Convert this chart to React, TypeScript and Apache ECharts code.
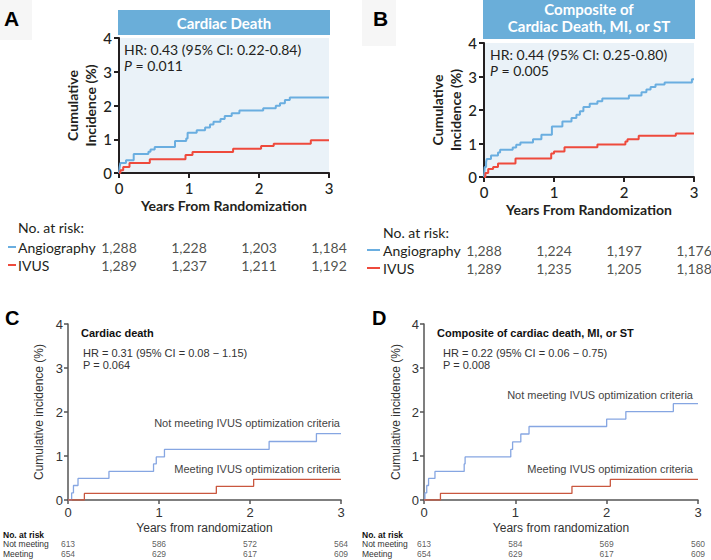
import React, { useEffect, useRef } from 'react';
import * as echarts from 'echarts';

type Pt = [number, number];

// ---- Panel A: Cardiac Death (years, cumulative %) ----
const aAngiography: Pt[] = [[0,0],[0.01,0.18],[0.02,0.30],[0.10,0.38],[0.21,0.56],[0.42,0.63],[0.45,0.70],[0.51,0.77],[0.80,0.95],[0.96,1.02],[0.98,1.19],[1.11,1.27],[1.23,1.35],[1.30,1.44],[1.35,1.52],[1.45,1.60],[1.51,1.69],[1.61,1.77],[1.72,1.85],[2.06,1.92],[2.24,1.99],[2.30,2.07],[2.37,2.16],[2.44,2.24],[3,2.24]];
const aIvus: Pt[] = [[0,0],[0.02,0.08],[0.06,0.18],[0.15,0.30],[0.44,0.41],[0.95,0.53],[1.05,0.62],[1.63,0.72],[2.03,0.80],[2.21,0.87],[2.74,0.97],[3,0.97]];

// ---- Panel B: Composite of Cardiac Death, MI, or ST ----
const bAngiography: Pt[] = [[0,0],[0.01,0.30],[0.03,0.45],[0.04,0.54],[0.10,0.64],[0.20,0.73],[0.23,0.81],[0.41,0.88],[0.46,0.96],[0.52,1.03],[0.70,1.13],[0.82,1.26],[0.97,1.51],[1.12,1.66],[1.25,1.76],[1.32,1.86],[1.37,1.96],[1.42,2.09],[1.51,2.19],[1.62,2.26],[1.69,2.34],[2.07,2.43],[2.25,2.53],[2.32,2.61],[2.38,2.69],[2.45,2.76],[2.58,2.82],[2.97,2.92],[3,2.92]];
const bIvus: Pt[] = [[0,0],[0.02,0.12],[0.06,0.24],[0.13,0.30],[0.20,0.40],[0.45,0.55],[0.96,0.70],[1.00,0.76],[1.15,0.89],[1.62,0.97],[2.02,1.06],[2.05,1.13],[2.21,1.23],[2.74,1.30],[3,1.30]];

// ---- Panel C: Cardiac death (IVUS optimization) ----
const cNotMeeting: Pt[] = [[0,0],[0.04,0.16],[0.06,0.33],[0.11,0.49],[0.45,0.65],[0.94,0.82],[0.97,0.98],[1.06,1.15],[2.21,1.33],[2.73,1.51],[3,1.51]];
const cMeeting: Pt[] = [[0,0],[0.18,0.15],[1.63,0.31],[2.04,0.47],[3,0.47]];

// ---- Panel D: Composite (IVUS optimization) ----
const dNotMeeting: Pt[] = [[0,0],[0.01,0.16],[0.03,0.33],[0.05,0.49],[0.12,0.65],[0.44,0.82],[0.45,0.98],[0.95,1.15],[0.97,1.32],[1.06,1.50],[1.15,1.67],[2.00,1.84],[2.21,2.01],[2.73,2.19],[3,2.19]];
const dMeeting: Pt[] = [[0,0],[0.18,0.15],[1.62,0.31],[2.04,0.47],[3,0.47]];

// ---- Risk tables ----
const riskYears = [0, 1, 2, 3];
const topRiskRows = ['Angiography', 'IVUS'];
const aRiskAngiography = ['1,288', '1,228', '1,203', '1,184'];
const aRiskIvus = ['1,289', '1,237', '1,211', '1,192'];
const bRiskAngiography = ['1,288', '1,224', '1,197', '1,176'];
const bRiskIvus = ['1,289', '1,235', '1,205', '1,188'];
const bottomRiskRows = ['Not meeting', 'Meeting'];
const cRiskNotMeeting = ['613', '586', '572', '564'];
const cRiskMeeting = ['654', '629', '617', '609'];
const dRiskNotMeeting = ['613', '584', '569', '560'];
const dRiskMeeting = ['654', '629', '617', '609'];

const TOP_FONT = 'Lato, "Noto Sans", sans-serif';
const BOT_FONT = '"Liberation Sans", Arial, sans-serif';
const DARK = '#231f20';
const TOP_BLUE = '#6aaee0';
const TOP_RED = '#ee4a3c';
const BAR = '#6aaed9';
const PLOT_BG = '#eaf2f8';
const BOT_BLUE = '#86a6e2';
const BOT_RED = '#c9573f';
const BOT_AXIS = '#555555';
const BOT_TEXT = '#333333';

function riskItems(rows: string[], a: string[], b: string[]) {
  const out: any[] = [];
  riskYears.forEach((t, i) => {
    out.push({ value: [t, rows[0]], name: a[i] });
    out.push({ value: [t, rows[1]], name: b[i] });
  });
  return out;
}

function topX(gi: number) {
  return {
    gridIndex: gi, type: 'value', min: 0, max: 3, interval: 1,
    axisLine: { show: true, onZero: false, lineStyle: { color: DARK, width: 2 } },
    axisTick: { show: true, length: 5, lineStyle: { color: DARK, width: 2 } },
    axisLabel: { fontFamily: TOP_FONT, fontSize: 15, color: DARK, margin: 7, fontWeight: 500 },
    splitLine: { show: false },
    name: 'Years From Randomization', nameLocation: 'middle', nameGap: 25,
    nameTextStyle: { fontFamily: TOP_FONT, fontSize: 14, fontWeight: 'bold', color: DARK },
  };
}
function topY(gi: number, gap: number) {
  return {
    gridIndex: gi, type: 'value', min: 0, max: 4, interval: 1,
    axisLine: { show: true, onZero: false, lineStyle: { color: DARK, width: 2 } },
    axisTick: { show: true, length: 5, lineStyle: { color: DARK, width: 2 } },
    axisLabel: { fontFamily: TOP_FONT, fontSize: 15, color: DARK, margin: 7, fontWeight: 500 },
    splitLine: { show: false },
    name: 'Cumulative\nIncidence (%)', nameLocation: 'middle', nameGap: gap, nameRotate: 90,
    nameTextStyle: { fontFamily: TOP_FONT, fontSize: 14, fontWeight: 'bold', color: DARK, lineHeight: 18 },
  };
}
function botX(gi: number) {
  return {
    gridIndex: gi, type: 'value', min: 0, max: 3, interval: 1,
    axisLine: { show: true, onZero: false, lineStyle: { color: BOT_AXIS, width: 1.5 } },
    axisTick: { show: true, length: 4, lineStyle: { color: BOT_AXIS, width: 1.5 } },
    axisLabel: { fontFamily: BOT_FONT, fontSize: 13, color: BOT_TEXT, margin: 6 },
    splitLine: { show: false },
    name: 'Years from randomization', nameLocation: 'middle', nameGap: 22,
    nameTextStyle: { fontFamily: BOT_FONT, fontSize: 12, color: BOT_TEXT },
  };
}
function botY(gi: number, gap: number) {
  return {
    gridIndex: gi, type: 'value', min: 0, max: 4, interval: 1,
    axisLine: { show: true, onZero: false, lineStyle: { color: BOT_AXIS, width: 1.5 } },
    axisTick: { show: true, length: 4, lineStyle: { color: BOT_AXIS, width: 1.5 } },
    axisLabel: { fontFamily: BOT_FONT, fontSize: 13, color: BOT_TEXT, margin: 5 },
    splitLine: { show: false },
    name: 'Cumulative incidence (%)', nameLocation: 'middle', nameGap: gap, nameRotate: 90,
    nameTextStyle: { fontFamily: BOT_FONT, fontSize: 12, color: BOT_TEXT },
  };
}
function riskX(gi: number) {
  return { gridIndex: gi, type: 'value', min: 0, max: 3, interval: 1, show: false };
}
function riskY(gi: number, rows: string[], margin: number, font: string, size: number, color: string) {
  return {
    gridIndex: gi, type: 'category', data: rows, inverse: true,
    axisLine: { show: false }, axisTick: { show: false }, splitLine: { show: false },
    axisLabel: { interval: 0, align: 'left', margin, fontFamily: font, fontSize: size, color },
  };
}
function km(xi: number, data: Pt[], color: string, width: number) {
  return {
    type: 'line', xAxisIndex: xi, yAxisIndex: xi, data, step: 'end',
    symbol: 'none', showSymbol: false, silent: true,
    lineStyle: { color, width },
  };
}
function risk(xi: number, items: any[], font: string, size: number, color: string) {
  return {
    type: 'scatter', xAxisIndex: xi, yAxisIndex: xi, data: items, symbolSize: 1, silent: true,
    itemStyle: { color: 'rgba(0,0,0,0)' },
    label: { show: true, position: 'inside', formatter: '{b}', fontFamily: font, fontSize: size, color },
  };
}

function txt(x: number, y: number, text: string, opts: any = {}) {
  return {
    type: 'text', x, y, silent: true,
    style: { text, align: 'left', verticalAlign: 'middle', ...opts },
  };
}

export default function App() {
  const ref = useRef<HTMLDivElement>(null);
  useEffect(() => {
    if (!ref.current) return;
    const chart = echarts.init(ref.current, null, { renderer: 'svg' });
    const topTxt = { fontFamily: TOP_FONT, fontSize: 14, fill: DARK, lineHeight: 14 };
    const botTxt = { fontFamily: BOT_FONT, fontSize: 11, fill: BOT_TEXT };
    const italicP = { i: { fontFamily: TOP_FONT, fontSize: 14, fontStyle: 'italic', fill: DARK, lineHeight: 14 } };
    const option: any = {
      animation: false,
      backgroundColor: '#ffffff',
      grid: [
        { left: 119, top: 38, width: 210, height: 135, show: true, backgroundColor: PLOT_BG, borderWidth: 0 },
        { left: 484, top: 43, width: 210, height: 134, show: true, backgroundColor: PLOT_BG, borderWidth: 0 },
        { left: 68, top: 324, width: 273, height: 176 },
        { left: 424, top: 324, width: 274, height: 176 },
        { left: 119, top: 238, width: 210, height: 36 },
        { left: 484, top: 241, width: 210, height: 36 },
        { left: 68, top: 539, width: 273, height: 20 },
        { left: 424, top: 539, width: 274, height: 20 },
      ],
      xAxis: [topX(0), topX(1), botX(2), botX(3), riskX(4), riskX(5), riskX(6), riskX(7)],
      yAxis: [
        topY(0, 17), topY(1, 18), botY(2, 23), botY(3, 22),
        riskY(4, topRiskRows, 101, TOP_FONT, 14, DARK),
        riskY(5, topRiskRows, 101, TOP_FONT, 14, DARK),
        riskY(6, bottomRiskRows, 65, BOT_FONT, 8.5, BOT_TEXT),
        riskY(7, bottomRiskRows, 62, BOT_FONT, 8.5, BOT_TEXT),
      ],
      series: [
        km(0, aAngiography, TOP_BLUE, 2), km(0, aIvus, TOP_RED, 2),
        km(1, bAngiography, TOP_BLUE, 2), km(1, bIvus, TOP_RED, 2),
        km(2, cNotMeeting, BOT_BLUE, 1.3), km(2, cMeeting, BOT_RED, 1.3),
        km(3, dNotMeeting, BOT_BLUE, 1.3), km(3, dMeeting, BOT_RED, 1.3),
        risk(4, riskItems(topRiskRows, aRiskAngiography, aRiskIvus), TOP_FONT, 14, DARK),
        risk(5, riskItems(topRiskRows, bRiskAngiography, bRiskIvus), TOP_FONT, 14, DARK),
        risk(6, riskItems(bottomRiskRows, cRiskNotMeeting, cRiskMeeting), BOT_FONT, 8.5, BOT_TEXT),
        risk(7, riskItems(bottomRiskRows, dRiskNotMeeting, dRiskMeeting), BOT_FONT, 8.5, BOT_TEXT),
      ],
      graphic: [
        // letter boxes
        { type: 'rect', silent: true, shape: { x: 0, y: 0, width: 32, height: 40 }, style: { fill: '#f6f6f6' } },
        { type: 'rect', silent: true, shape: { x: 362, y: 0, width: 34, height: 46 }, style: { fill: '#f6f6f6' } },
        txt(4, 18, 'A', { fontFamily: BOT_FONT, fontSize: 21, fontWeight: 'bold', fill: '#000' }),
        txt(373, 18, 'B', { fontFamily: BOT_FONT, fontSize: 21, fontWeight: 'bold', fill: '#000' }),
        txt(5, 318, 'C', { fontFamily: BOT_FONT, fontSize: 20, fontWeight: 'bold', fill: '#000' }),
        txt(372, 318, 'D', { fontFamily: BOT_FONT, fontSize: 20, fontWeight: 'bold', fill: '#000' }),
        // title bars
        { type: 'rect', silent: true, shape: { x: 118, y: 10, width: 212, height: 25 }, style: { fill: BAR } },
        { type: 'rect', silent: true, shape: { x: 483, y: 0, width: 212, height: 39 }, style: { fill: BAR } },
        txt(224, 22.5, 'Cardiac Death', { fontFamily: TOP_FONT, fontSize: 15, fontWeight: 'bold', fill: '#ffffff', align: 'center' }),
        txt(589, 9, 'Composite of', { fontFamily: TOP_FONT, fontSize: 15, fontWeight: 'bold', fill: '#ffffff', align: 'center', lineHeight: 16 }),
        txt(589, 26, 'Cardiac Death, MI, or ST', { fontFamily: TOP_FONT, fontSize: 15, fontWeight: 'bold', fill: '#ffffff', align: 'center', lineHeight: 16 }),
        // HR annotations top
        txt(124, 49, 'HR: 0.43 (95% CI: 0.22-0.84)', topTxt),
        txt(124, 65, '{i|P} = 0.011', { ...topTxt, rich: italicP }),
        txt(490, 54, 'HR: 0.44 (95% CI: 0.25-0.80)', topTxt),
        txt(490, 70, '{i|P} = 0.005', { ...topTxt, rich: italicP }),
        // risk headers top
        txt(18, 227, 'No. at risk:', topTxt),
        txt(383, 232, 'No. at risk:', topTxt),
        { type: 'line', silent: true, shape: { x1: 8, y1: 247, x2: 16, y2: 247 }, style: { stroke: TOP_BLUE, lineWidth: 2 } },
        { type: 'line', silent: true, shape: { x1: 8, y1: 265, x2: 16, y2: 265 }, style: { stroke: TOP_RED, lineWidth: 2 } },
        { type: 'line', silent: true, shape: { x1: 367, y1: 250, x2: 380, y2: 250 }, style: { stroke: TOP_BLUE, lineWidth: 2 } },
        { type: 'line', silent: true, shape: { x1: 367, y1: 268, x2: 380, y2: 268 }, style: { stroke: TOP_RED, lineWidth: 2 } },
        // bottom panel titles and annotations
        txt(81, 333, 'Cardiac death', { ...botTxt, fontWeight: 'bold', fill: '#111' }),
        txt(83, 353, 'HR = 0.31 (95% CI = 0.08 \u2212 1.15)', botTxt),
        txt(83, 365, 'P = 0.064', botTxt),
        txt(437, 333, 'Composite of cardiac death, MI, or ST', { ...botTxt, fontWeight: 'bold', fill: '#111' }),
        txt(443, 353, 'HR = 0.22 (95% CI = 0.06 \u2212 0.75)', botTxt),
        txt(443, 365, 'P = 0.008', botTxt),
        txt(340, 423, 'Not meeting IVUS optimization criteria', { ...botTxt, align: 'right', fill: '#444' }),
        txt(340, 469, 'Meeting IVUS optimization criteria', { ...botTxt, align: 'right', fill: '#444' }),
        txt(693, 395, 'Not meeting IVUS optimization criteria', { ...botTxt, align: 'right', fill: '#444' }),
        txt(693, 469, 'Meeting IVUS optimization criteria', { ...botTxt, align: 'right', fill: '#444' }),
        txt(3, 535, 'No. at risk', { fontFamily: BOT_FONT, fontSize: 8.5, fontWeight: 'bold', fill: '#111' }),
        txt(362, 535, 'No. at risk', { fontFamily: BOT_FONT, fontSize: 8.5, fontWeight: 'bold', fill: '#111' }),
      ],
    };
    chart.setOption(option);
    return () => chart.dispose();
  }, []);
  return (
    <div
      ref={ref}
      style={{ position: 'fixed', left: 0, top: 0, width: 711, height: 560, background: '#fff' }}
    />
  );
}
